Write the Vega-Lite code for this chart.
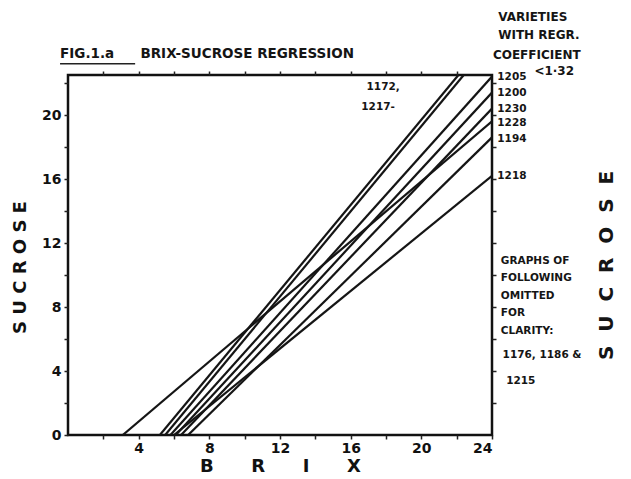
{
  "$schema": "https://vega.github.io/schema/vega-lite/v6.json",
  "autosize": {"type": "none"},
  "width": 424,
  "height": 360,
  "padding": {"left": 68, "top": 75, "right": 139, "bottom": 44},
  "background": "white",
  "config": {
    "view": {"stroke": "#111", "strokeWidth": 2.5},
    "font": "DejaVu Sans",
    "axis": {"domain": false, "grid": false, "tickColor": "#222", "labelColor": "#111", "titleColor": "#111", "labelFont": "DejaVu Sans", "titleFont": "DejaVu Sans", "labelFontWeight": "bold", "titleFontWeight": "bold"}
  },
  "datasets": {
    "lines": [
      {"variety": "1228", "brix": 3.1, "sucrose": 0},
      {"variety": "1228", "brix": 24, "sucrose": 19.6},
      {"variety": "1172", "brix": 5.2, "sucrose": 0},
      {"variety": "1172", "brix": 22.1, "sucrose": 22.5},
      {"variety": "1217", "brix": 5.5, "sucrose": 0},
      {"variety": "1217", "brix": 22.4, "sucrose": 22.5},
      {"variety": "1205", "brix": 5.8, "sucrose": 0},
      {"variety": "1205", "brix": 24, "sucrose": 22.4},
      {"variety": "1200", "brix": 6.1, "sucrose": 0},
      {"variety": "1200", "brix": 24, "sucrose": 21.4},
      {"variety": "1230", "brix": 6.4, "sucrose": 0},
      {"variety": "1230", "brix": 24, "sucrose": 20.4},
      {"variety": "1194", "brix": 6.8, "sucrose": 0},
      {"variety": "1194", "brix": 24, "sucrose": 18.6},
      {"variety": "1218", "brix": 6.0, "sucrose": 0},
      {"variety": "1218", "brix": 24, "sucrose": 16.2}
    ],
    "rightLabels": [
      {"label": "1205", "brix": 24.3, "sucrose": 22.4},
      {"label": "1200", "brix": 24.3, "sucrose": 21.4},
      {"label": "1230", "brix": 24.3, "sucrose": 20.4},
      {"label": "1228", "brix": 24.3, "sucrose": 19.5},
      {"label": "1194", "brix": 24.3, "sucrose": 18.5},
      {"label": "1218", "brix": 24.3, "sucrose": 16.2},
      {"label": "GRAPHS OF", "brix": 24.5, "sucrose": 10.9},
      {"label": "FOLLOWING", "brix": 24.5, "sucrose": 9.8},
      {"label": "OMITTED", "brix": 24.5, "sucrose": 8.7},
      {"label": "FOR", "brix": 24.5, "sucrose": 7.6},
      {"label": "CLARITY:", "brix": 24.5, "sucrose": 6.5},
      {"label": "1176, 1186 &", "brix": 24.6, "sucrose": 5.0},
      {"label": "1215", "brix": 24.8, "sucrose": 3.4},
      {"label": "1172,", "brix": 16.9, "sucrose": 21.75},
      {"label": "1217-", "brix": 16.6, "sucrose": 20.5}
    ],
    "header": [
      {"label": "VARIETIES", "brix": 24.35, "sucrose": 26.1},
      {"label": "WITH REGR.", "brix": 24.35, "sucrose": 25.0},
      {"label": "COEFFICIENT", "brix": 24.05, "sucrose": 23.75},
      {"label": "<1·32", "brix": 26.4, "sucrose": 22.75}
    ],
    "title": [
      {"label": "FIG.1.a", "brix": -0.45, "sucrose": 23.8},
      {"label": "BRIX-SUCROSE REGRESSION", "brix": 4.1, "sucrose": 23.8}
    ],
    "underline": [
      {"brix": -0.45, "sucrose": 23.2},
      {"brix": 3.8, "sucrose": 23.2}
    ],
    "side": [
      {"label": "S\u00a0\u00a0U\u00a0\u00a0C\u00a0\u00a0R\u00a0\u00a0O\u00a0\u00a0S\u00a0\u00a0E", "brix": 30.5, "sucrose": 10.6}
    ]
  },
  "layer": [
    {
      "data": {"name": "lines"},
      "mark": {"type": "line", "color": "#151515", "strokeWidth": 2.2, "clip": true},
      "encoding": {
        "x": {"field": "brix", "type": "quantitative", "scale": {"domain": [0, 24], "nice": false},
          "axis": {"orient": "bottom", "values": [2,4,6,8,10,12,14,16,18,20,22,24], "labelExpr": "datum.value % 4 == 0 ? datum.label : ''", "tickSize": 4, "tickWidth": 1.5, "labelFontSize": 14, "labelPadding": 2, "title": "B\u00a0\u00a0\u00a0\u00a0\u00a0\u00a0R\u00a0\u00a0\u00a0\u00a0\u00a0\u00a0I\u00a0\u00a0\u00a0\u00a0\u00a0\u00a0X", "titleFontSize": 18, "titlePadding": 2}},
        "y": {"field": "sucrose", "type": "quantitative", "scale": {"domain": [0, 22.5], "nice": false},
          "axis": {"orient": "left", "values": [0,2,4,6,8,10,12,14,16,18,20,22], "labelExpr": "datum.value % 4 == 0 ? datum.label : ''", "tickSize": 4, "tickWidth": 1.5, "labelFontSize": 14, "labelPadding": 3, "title": "S\u00a0U\u00a0C\u00a0R\u00a0O\u00a0S\u00a0E", "titleFontSize": 18, "titlePadding": 12, "titleY": 192}},
        "detail": {"field": "variety", "type": "nominal"}
      }
    },
    {
      "data": {"name": "underline"},
      "mark": {"type": "line", "color": "#222", "strokeWidth": 1.5, "clip": false},
      "encoding": {
        "x": {"field": "brix", "type": "quantitative", "axis": {"orient": "top", "values": [2,4,6,8,10,12,14,16,18,20,22], "labels": false, "tickSize": 4, "tickWidth": 1.5, "title": null}},
        "y": {"field": "sucrose", "type": "quantitative", "axis": {"orient": "right", "values": [2,4,6,8,10,12,14,16,18,20,22], "labels": false, "tickSize": 4, "tickWidth": 1.5, "title": null}}
      }
    },
    {
      "data": {"name": "rightLabels"},
      "mark": {"type": "text", "align": "left", "baseline": "middle", "fontSize": 10.5, "fontWeight": "bold", "color": "#151515", "clip": false},
      "encoding": {
        "x": {"field": "brix", "type": "quantitative", "axis": null},
        "y": {"field": "sucrose", "type": "quantitative", "axis": null},
        "text": {"field": "label"}
      }
    },
    {
      "data": {"name": "header"},
      "mark": {"type": "text", "align": "left", "baseline": "middle", "fontSize": 12, "fontWeight": "bold", "color": "#151515", "clip": false},
      "encoding": {
        "x": {"field": "brix", "type": "quantitative", "axis": null},
        "y": {"field": "sucrose", "type": "quantitative", "axis": null},
        "text": {"field": "label"}
      }
    },
    {
      "data": {"name": "title"},
      "mark": {"type": "text", "align": "left", "baseline": "middle", "fontSize": 13.5, "fontWeight": "bold", "color": "#151515", "clip": false},
      "encoding": {
        "x": {"field": "brix", "type": "quantitative", "axis": null},
        "y": {"field": "sucrose", "type": "quantitative", "axis": null},
        "text": {"field": "label"}
      }
    },
    {
      "data": {"name": "side"},
      "mark": {"type": "text", "align": "center", "baseline": "middle", "fontSize": 20, "fontWeight": "bold", "angle": 270, "color": "#151515", "clip": false},
      "encoding": {
        "x": {"field": "brix", "type": "quantitative", "axis": null},
        "y": {"field": "sucrose", "type": "quantitative", "axis": null},
        "text": {"field": "label"}
      }
    }
  ],
  "resolve": {"axis": {"x": "independent", "y": "independent"}}
}
